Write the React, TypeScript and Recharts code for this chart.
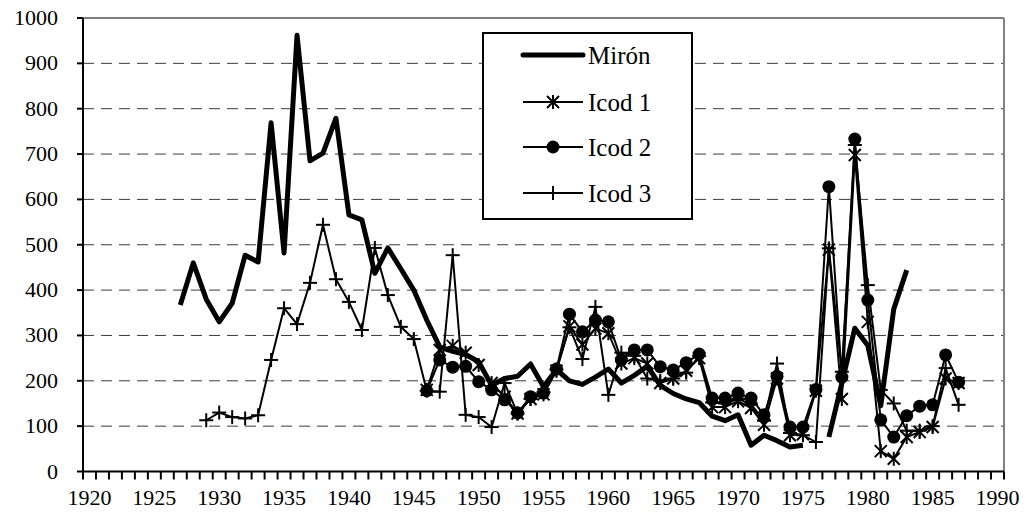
import React from "react";
import {
  CartesianGrid,
  Legend,
  Line,
  LineChart,
  ReferenceLine,
  XAxis,
  YAxis,
} from "recharts";

// Years covered by any of the four records.
const years = [
  1927, 1928, 1929, 1930, 1931, 1932, 1933, 1934, 1935, 1936,
  1937, 1938, 1939, 1940, 1941, 1942, 1943, 1944, 1945, 1946,
  1947, 1948, 1949, 1950, 1951, 1952, 1953, 1954, 1955, 1956,
  1957, 1958, 1959, 1960, 1961, 1962, 1963, 1964, 1965, 1966,
  1967, 1968, 1969, 1970, 1971, 1972, 1973, 1974, 1975, 1976,
  1977, 1978, 1979, 1980, 1981, 1982, 1983, 1984, 1985, 1986, 1987,
];

const miron = [
  367, 460, 380, 330, 371, 477, 462, 769, 482, 962,
  685, 702, 779, 566, 555, 437, 493, 447, 400, 334,
  275, 265, 258, 242, 190, 205, 210, 237, 187, 225,
  200, 192, 208, 226, 195, 212, 232, 190, 172, 160,
  152, 122, 112, 125, 58, 80, 68, 54, 58, null,
  76, 195, 316, 278, 145, 358, 444, null, null, null, null,
];

const icod1 = [
  null, null, null, null, null, null, null, null, null, null,
  null, null, null, null, null, null, null, null, null,
  180, 268, 277, 262, 235, 195, 165, 128, 160, 170,
  222, 320, 280, 315, 305, 238, 250, 238, 195, 205,
  222, 250, 142, 142, 155, 140, 103, 205, 80, 82,
  178, 489, 160, 698, 330, 45, 28, 76, 87, 98,
  205, 195,
];

const icod2 = [
  null, null, null, null, null, null, null, null, null, null,
  null, null, null, null, null, null, null, null, null,
  178, 246, 230, 232, 198, 180, 158, 129, 165, 173,
  226, 347, 308, 334, 330, 246, 268, 268, 231, 224,
  240, 259, 162, 162, 173, 162, 125, 210, 98, 98,
  181, 628, 208, 733, 378, 114, 76, 123, 144, 147,
  257, 197,
];

const icod3 = [
  null, null,
  113, 130, 120, 117, 124, 246, 360, 325, 416,
  544, 424, 374, 312, 493, 389, 319, 292, 178, 176,
  477, 125, 120, 98, 195, 128, 160, 175, 225, 318,
  248, 363, 169, 262, 255, 205, 200, 205, 218, 255,
  152, 150, 160, 148, 112, 238, 85, 80, 65, 492,
  220, 720, 411, 180, 150, 90, 90, 100, 228, 147,
];

const yearLabels = [
  1920, 1925, 1930, 1935, 1940, 1945, 1950, 1955,
  1960, 1965, 1970, 1975, 1980, 1985, 1990,
];
const yTicks = [0, 100, 200, 300, 400, 500, 600, 700, 800, 900, 1000];
const seriesNames = ["Mirón", "Icod 1", "Icod 2", "Icod 3"];

const FONT =
  '"Liberation Serif", Tinos, "Noto Serif", "DejaVu Serif", FreeSerif, "Nimbus Roman", "Nimbus Roman No9 L", Times, "Times New Roman", serif';
const TEXT_STYLE = { fontFamily: FONT };

const data = years.map((year, i) => ({
  year,
  miron: miron[i],
  icod1: icod1[i],
  icod2: icod2[i],
  icod3: icod3[i],
}));

// one tick mark between every pair of years, labels every 5 years
const boundaries: number[] = [];
for (let y = yearLabels[0]; y <= yearLabels[yearLabels.length - 1] + 1; y++) {
  boundaries.push(y - 0.5);
}
const xTicks = [...boundaries, ...yearLabels].sort((a, b) => a - b);

function XTick(props: any) {
  const { x, y, payload } = props;
  const v = payload.value;
  if (Number.isInteger(v)) {
    return (
      <text x={x} y={y + 33} textAnchor="middle" fontSize={22} style={TEXT_STYLE} fill="#000">
        {v}
      </text>
    );
  }
  return <line x1={x} y1={y} x2={x} y2={y + 8} stroke="#000" strokeWidth={2} />;
}

function YTick(props: any) {
  const { x, y, payload } = props;
  return (
    <text x={x} y={y + 7} textAnchor="end" fontSize={22} style={TEXT_STYLE} fill="#000">
      {payload.value}
    </text>
  );
}

function drawAsterisk(cx: number, cy: number, key: string) {
  const s = 6;
  return (
    <g key={key} stroke="#000" strokeWidth={2}>
      <line x1={cx - s} y1={cy - s} x2={cx + s} y2={cy + s} />
      <line x1={cx - s} y1={cy + s} x2={cx + s} y2={cy - s} />
      <line x1={cx} y1={cy - s - 1} x2={cx} y2={cy + s + 1} />
    </g>
  );
}

function drawPlus(cx: number, cy: number, key: string) {
  const s = 7;
  return (
    <g key={key} stroke="#000" strokeWidth={2}>
      <line x1={cx - s} y1={cy} x2={cx + s} y2={cy} />
      <line x1={cx} y1={cy - s} x2={cx} y2={cy + s} />
    </g>
  );
}

function drawCircle(cx: number, cy: number, key: string) {
  return <circle key={key} cx={cx} cy={cy} r={6.5} fill="#000" />;
}

const dotFor = (draw: typeof drawPlus, tag: string) => (props: any) => {
  const { cx, cy, index, value } = props;
  const key = `${tag}-${index}`;
  if (value == null || cx == null || cy == null) return <g key={key} />;
  return draw(cx, cy, key);
};

function LegendBox() {
  const rows = [21, 68, 113, 159];
  return (
    <div
      style={{
        width: 211,
        height: 188,
        boxSizing: "border-box",
        border: "2px solid #000",
        background: "#fff",
      }}
    >
      <svg width={207} height={184} style={{ display: "block" }}>
        {seriesNames.map((name, i) => {
          const cy = rows[i];
          return (
            <g key={name}>
              <line
                x1={39}
                y1={cy}
                x2={99}
                y2={cy}
                stroke="#000"
                strokeWidth={i === 0 ? 5 : 2}
                strokeLinecap={i === 0 ? "round" : "butt"}
              />
              {i === 1 && drawAsterisk(69, cy, "la")}
              {i === 2 && drawCircle(69, cy, "lc")}
              {i === 3 && drawPlus(69, cy, "lp")}
              <text x={104} y={cy + 9} fontSize={25} style={TEXT_STYLE} fill="#000">
                {name}
              </text>
            </g>
          );
        })}
      </svg>
    </div>
  );
}

export default function App() {
  return (
    <div
      style={{
        position: "absolute",
        left: 0,
        top: 0,
        width: 1029,
        height: 527,
        background: "#fff",
        fontFamily: FONT,
      }}
    >
      <LineChart
        width={1029}
        height={527}
        data={data}
        margin={{ top: 18, right: 25, bottom: 0, left: 0 }}
      >
        <CartesianGrid vertical={false} stroke="#3a3a3a" strokeDasharray="11 7" />
        <XAxis
          dataKey="year"
          type="number"
          domain={[1919.5, 1990.5]}
          ticks={xTicks}
          interval={0}
          height={55.5}
          tickSize={0}
          tickMargin={0}
          tickLine={false}
          tick={<XTick />}
          axisLine={{ stroke: "#000", strokeWidth: 2 }}
        />
        <YAxis
          domain={[0, 1000]}
          ticks={yTicks}
          interval={0}
          width={83}
          tickSize={6}
          tickMargin={19}
          tickLine={{ stroke: "#000", strokeWidth: 2 }}
          axisLine={{ stroke: "#000", strokeWidth: 2 }}
          tick={<YTick />}
        />
        <ReferenceLine y={1000} stroke="#808080" strokeWidth={2} />
        <ReferenceLine x={1990.5} stroke="#808080" strokeWidth={2} />
        <Legend
          layout="horizontal"
          verticalAlign="middle"
          align="center"
          content={() => <LegendBox />}
          wrapperStyle={{ left: 482, top: 32, width: 211, height: 188 }}
        />
        <Line
          dataKey="miron"
          name="Mirón"
          stroke="#000"
          strokeWidth={5}
          dot={false}
          activeDot={false}
          strokeLinejoin="round"
          isAnimationActive={false}
        />
        <Line
          dataKey="icod1"
          name="Icod 1"
          stroke="#000"
          strokeWidth={2}
          dot={dotFor(drawAsterisk, "a")}
          activeDot={false}
          isAnimationActive={false}
        />
        <Line
          dataKey="icod2"
          name="Icod 2"
          stroke="#000"
          strokeWidth={2}
          dot={dotFor(drawCircle, "c")}
          activeDot={false}
          isAnimationActive={false}
        />
        <Line
          dataKey="icod3"
          name="Icod 3"
          stroke="#000"
          strokeWidth={2}
          dot={dotFor(drawPlus, "p")}
          activeDot={false}
          isAnimationActive={false}
        />
      </LineChart>
    </div>
  );
}
